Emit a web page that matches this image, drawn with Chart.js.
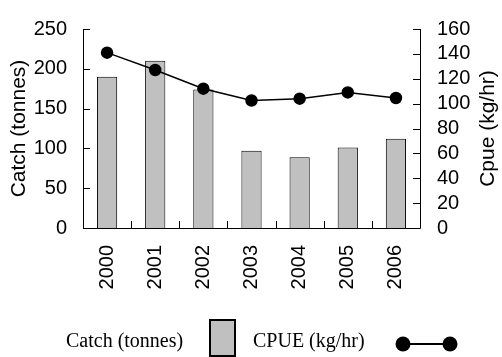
<!DOCTYPE html>
<html>
<head>
<meta charset="utf-8">
<script src="https://cdn.jsdelivr.net/npm/chart.js@4/dist/chart.umd.min.js"></script>
<style>
  html, body { margin: 0; padding: 0; background: #fff; }
  #wrap { position: relative; width: 502px; height: 357px; }
</style>
</head>
<body>
<div id="wrap"><canvas id="c"></canvas></div>
<script>
// Annual catch and catch-per-unit-effort, 2000-2006
const years = ['2000', '2001', '2002', '2003', '2004', '2005', '2006'];
const catchTonnes = [190, 210, 174, 97, 89, 101, 112];
const cpueKgHr = [141, 127, 112, 102.5, 104, 109, 104.5];
const catchTicks = [0, 50, 100, 150, 200, 250];
const cpueTicks = [0, 20, 40, 60, 80, 100, 120, 140, 160];

const SANS = "'Liberation Sans', Arial, sans-serif";
const SERIF = "'Liberation Serif', 'Times New Roman', serif";

// Axis lines, inward tick marks, rotated axis titles and the key below the plot
const axesAndKey = {
  id: 'axesAndKey',
  afterDraw(chart) {
    const ctx = chart.ctx;
    const a = chart.chartArea;
    const yL = chart.scales.y;
    const yR = chart.scales.y1;
    const x = chart.scales.x;
    ctx.save();
    ctx.strokeStyle = '#000';
    ctx.lineWidth = 1;

    // axis lines
    ctx.beginPath();
    ctx.moveTo(a.left + 0.5, a.top);
    ctx.lineTo(a.left + 0.5, a.bottom + 0.5);
    ctx.lineTo(a.right + 0.5, a.bottom + 0.5);
    ctx.lineTo(a.right + 0.5, a.top);
    ctx.stroke();

    // tick marks pointing into the plot
    ctx.beginPath();
    yL.ticks.forEach(t => {
      const py = Math.round(yL.getPixelForValue(t.value)) + 0.5;
      ctx.moveTo(a.left, py); ctx.lineTo(a.left + 7, py);
    });
    yR.ticks.forEach(t => {
      const py = Math.round(yR.getPixelForValue(t.value)) + 0.5;
      ctx.moveTo(a.right - 7, py); ctx.lineTo(a.right, py);
    });
    for (let i = 1; i < years.length; i++) {
      const px = Math.round((x.getPixelForValue(i - 1) + x.getPixelForValue(i)) / 2) + 0.5;
      ctx.moveTo(px, a.bottom); ctx.lineTo(px, a.bottom - 7);
    }
    ctx.stroke();

    // axis titles, both reading upward
    const midY = (a.top + a.bottom) / 2;
    ctx.fillStyle = '#000';
    ctx.font = '21px ' + SANS;
    ctx.textAlign = 'center';
    ctx.textBaseline = 'middle';
    [[19, 'Catch (tonnes)'], [488, 'Cpue (kg/hr)']].forEach(([tx, txt]) => {
      ctx.save();
      ctx.translate(tx, midY);
      ctx.rotate(-Math.PI / 2);
      ctx.fillText(txt, 0, 0);
      ctx.restore();
    });

    // key
    const ky = 342;
    ctx.font = '20px ' + SERIF;
    ctx.textAlign = 'left';
    ctx.fillText('Catch (tonnes)', 66, ky);
    ctx.fillStyle = '#c0c0c0';
    ctx.fillRect(210, 320, 25, 36);
    ctx.lineWidth = 2;
    ctx.strokeRect(210, 320, 25, 36);
    ctx.fillStyle = '#000';
    ctx.fillText('CPUE (kg/hr)', 253, ky);
    ctx.lineWidth = 2;
    ctx.beginPath();
    ctx.moveTo(403, 344); ctx.lineTo(450, 344);
    ctx.stroke();
    [403, 450].forEach(cx => {
      ctx.beginPath();
      ctx.arc(cx, 344, 7.5, 0, Math.PI * 2);
      ctx.fill();
    });
    ctx.restore();
  }
};

new Chart(document.getElementById('c'), {
  data: {
    labels: years,
    datasets: [
      {
        type: 'line',
        label: 'CPUE (kg/hr)',
        data: cpueKgHr,
        yAxisID: 'y1',
        order: 0,
        borderColor: '#000',
        borderWidth: 1.5,
        backgroundColor: '#000',
        pointBackgroundColor: '#000',
        pointBorderColor: '#000',
        pointRadius: 5.5,
        tension: 0
      },
      {
        type: 'bar',
        label: 'Catch (tonnes)',
        data: catchTonnes,
        yAxisID: 'y',
        order: 1,
        backgroundColor: '#c0c0c0',
        borderColor: '#000',
        borderWidth: 1,
        barPercentage: 0.42,
        categoryPercentage: 1
      }
    ]
  },
  options: {
    responsive: true,
    maintainAspectRatio: false,
    animation: false,
    layout: { padding: { top: 17, bottom: 59, left: 0, right: 0 } },
    plugins: { legend: { display: false }, tooltip: { enabled: false } },
    scales: {
      x: {
        type: 'category',
        position: 'bottom',
        grid: { display: false, drawTicks: false },
        border: { display: false },
        ticks: {
          color: '#000',
          font: { family: SANS, size: 20 },
          minRotation: 90,
          maxRotation: 90,
          autoSkip: false,
          padding: 17
        },
        afterFit(s) { s.height = 70; }
      },
      y: {
        position: 'left',
        min: 0,
        max: 250,
        grid: { display: false, drawTicks: false },
        border: { display: false },
        afterBuildTicks(s) { s.ticks = catchTicks.map(v => ({ value: v })); },
        ticks: { color: '#000', font: { family: SANS, size: 20 }, padding: 16, autoSkip: false },
        afterFit(s) { s.width = 83; }
      },
      y1: {
        position: 'right',
        min: 0,
        max: 160,
        grid: { display: false, drawTicks: false },
        border: { display: false },
        afterBuildTicks(s) { s.ticks = cpueTicks.map(v => ({ value: v })); },
        ticks: { color: '#000', font: { family: SANS, size: 20 }, padding: 17, autoSkip: false },
        afterFit(s) { s.width = 82; }
      }
    }
  },
  plugins: [axesAndKey]
});
</script>
</body>
</html>
